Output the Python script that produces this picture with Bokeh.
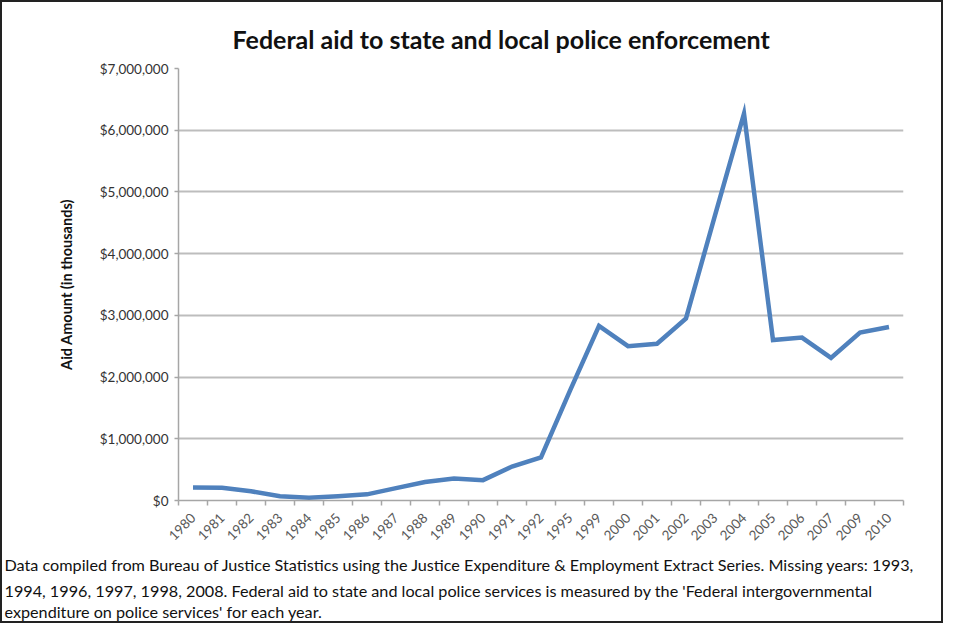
import math
from bokeh.plotting import figure
from bokeh.models import (Range1d, FixedTicker, NumeralTickFormatter, Title,
                          ColumnDataSource)
from bokeh.embed import file_html
from bokeh.resources import INLINE

# ---- data ----
years = ["1980", "1981", "1982", "1983", "1984", "1985", "1986", "1987", "1988",
         "1989", "1990", "1991", "1992", "1995", "1999", "2000", "2001", "2002",
         "2003", "2004", "2005", "2006", "2007", "2009", "2010"]
aid_thousands = [210000, 205000, 150000, 70000, 45000, 70000, 100000, 200000,
                 300000, 355000, 330000, 550000, 700000, 1780000, 2830000,
                 2500000, 2540000, 2950000, 4620000, 6270000, 2600000, 2640000,
                 2310000, 2720000, 2810000]
y_ticks = [0, 1000000, 2000000, 3000000, 4000000, 5000000, 6000000, 7000000]

title_text = "Federal aid to state and local police enforcement"
y_label = "Aid Amount (in thousands)"
footnote_lines = [
    "Data compiled from Bureau of Justice Statistics using the Justice Expenditure & Employment Extract Series. Missing years: 1993,",
    "1994, 1996, 1997, 1998, 2008. Federal aid to state and local police services is measured by the 'Federal intergovernmental",
    "expenditure on police services' for each year.",
]

FONT = "Lato"
idx = list(range(len(years)))
src = ColumnDataSource(dict(x=idx, y=aid_thousands))

p = figure(width=943, height=623, output_backend="svg", toolbar_location=None,
           x_range=Range1d(-0.5, len(years) - 0.5), y_range=Range1d(0, 7000000),
           min_border_left=176, min_border_right=42, min_border_top=66,
           min_border_bottom=125, background_fill_color="white",
           border_fill_color="white", outline_line_color=None,
           styles={"border": "2px solid #222222"})

# title
p.title.text = title_text
p.title.align = "left"
p.title.offset = 54
p.title.standoff = 30
p.title.text_font = FONT
p.title.text_font_style = "bold"
p.title.text_font_size = "25px"
p.title.text_color = "#111111"

# grid
p.xgrid.grid_line_color = None
p.ygrid.ticker = FixedTicker(ticks=y_ticks)
p.ygrid.grid_line_color = "#BDBDBD"
p.ygrid.grid_line_width = 2

# y axis
ya = p.yaxis[0]
ya.ticker = FixedTicker(ticks=y_ticks)
ya.formatter = NumeralTickFormatter(format="$0,0")
ya.axis_line_color = "#A6A6A6"
ya.axis_line_width = 1.5
ya.major_tick_line_color = "#A6A6A6"
ya.major_tick_line_width = 1.5
ya.major_tick_out = 4
ya.major_tick_in = 0
ya.minor_tick_line_color = None
ya.major_label_standoff = 6
ya.major_label_text_font = FONT
ya.major_label_text_font_size = "13.5px"
ya.major_label_text_color = "#333333"
ya.axis_label = y_label
ya.axis_label_text_font = FONT
ya.axis_label_text_font_style = "bold"
ya.axis_label_text_font_size = "14.5px"
ya.axis_label_text_color = "#111111"
ya.axis_label_standoff = 22

# x axis: labels at category centres, ticks at category boundaries
xa = p.xaxis[0]
xa.ticker = FixedTicker(ticks=idx, minor_ticks=[i - 0.5 for i in range(len(years) + 1)])
xa.major_label_overrides = {i: y for i, y in zip(idx, years)}
xa.major_label_orientation = math.pi / 4
xa.axis_line_color = "#A6A6A6"
xa.axis_line_width = 1.5
xa.major_tick_line_color = None
xa.major_tick_out = 0
xa.major_tick_in = 0
xa.minor_tick_line_color = "#A6A6A6"
xa.minor_tick_line_width = 1.5
xa.minor_tick_out = 5
xa.minor_tick_in = 0
xa.major_label_standoff = 10
xa.major_label_text_font = FONT
xa.major_label_text_font_size = "13.5px"
xa.major_label_text_color = "#595959"

# the series
p.line("x", "y", source=src, line_color="#4F81BD", line_width=4.5,
       line_join="miter")

# footnote, as three left-aligned lines below the axis
for k, t in enumerate(footnote_lines):
    p.add_layout(Title(text=t, align="left", offset=-174,
                       standoff=10 if k == 0 else 0,
                       text_font=FONT, text_font_style="normal",
                       text_font_size="16.2px", text_color="#111111"), "below")

open("out.html", "w").write(file_html(p, INLINE))
